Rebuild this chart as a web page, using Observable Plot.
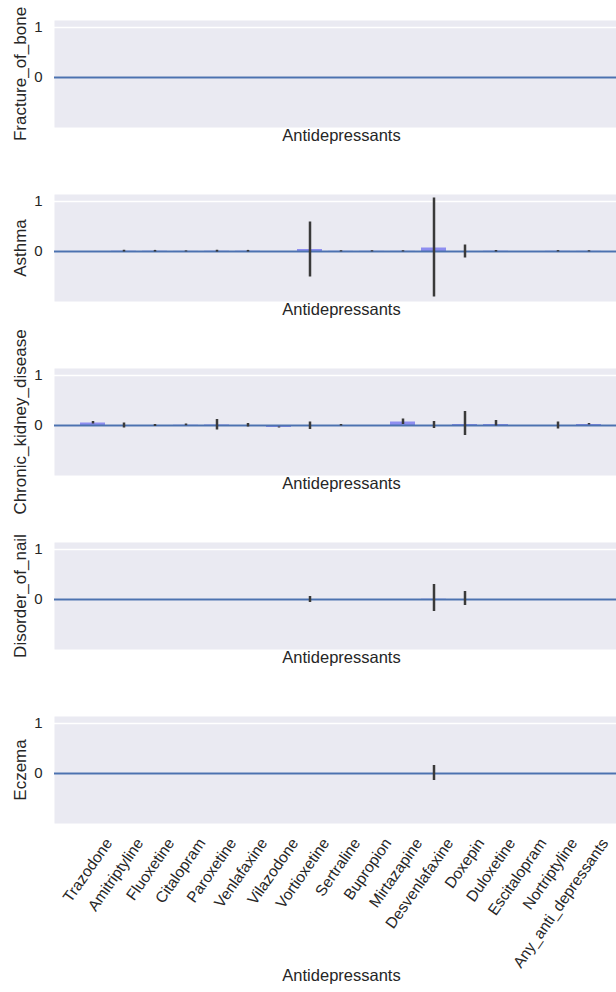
<!DOCTYPE html>
<html><head><meta charset="utf-8">
<script src="https://cdn.jsdelivr.net/npm/d3@7"></script>
<script src="https://cdn.jsdelivr.net/npm/@observablehq/plot@0.6"></script>
<style>
html,body{margin:0;padding:0;background:#fff;overflow:hidden}
#chart{width:616px;overflow:hidden;position:relative}
#chart svg{display:block;overflow:visible}
</style></head><body><div id="chart"></div>
<script>
const drugs = ["Trazodone","Amitriptyline","Fluoxetine","Citalopram","Paroxetine","Venlafaxine","Vilazodone","Vortioxetine","Sertraline","Bupropion","Mirtazapine","Desvenlafaxine","Doxepin","Duloxetine","Escitalopram","Nortriptyline","Any_anti_depressants"];
const xLabel = "Antidepressants";
const yTicks = [0, 1];

const fractureMean = [0,0,0,0,0,0,0,0,0,0,0,0,0,0,0,0,0];
const fractureLo   = [0,0,0,0,0,0,0,0,0,0,0,0,0,0,0,0,0];
const fractureHi   = [0,0,0,0,0,0,0,0,0,0,0,0,0,0,0,0,0];

const asthmaMean = [0, 0.005, 0.005, 0.002, 0.005, 0.005, 0, 0.04, 0.003, 0.003, 0.003, 0.07, 0, 0.005, 0, 0.004, 0.003];
const asthmaLo   = [0, -0.01, -0.01, -0.008, -0.012, -0.01, 0, -0.51, -0.008, -0.008, -0.008, -0.91, -0.13, -0.01, 0, -0.008, -0.008];
const asthmaHi   = [0, 0.025, 0.022, 0.012, 0.025, 0.022, 0, 0.59, 0.015, 0.015, 0.015, 1.07, 0.13, 0.02, 0, 0.018, 0.015];

const kidneyMean = [0.05, 0, 0, 0.005, 0.01, 0, -0.04, 0, 0, 0, 0.07, 0, 0.02, 0.02, 0, 0, 0.02];
const kidneyLo   = [0.03, -0.05, -0.02, -0.005, -0.09, -0.03, -0.05, -0.08, -0.01, 0, 0.02, -0.06, -0.2, -0.01, 0, -0.07, 0.01];
const kidneyHi   = [0.08, 0.05, 0.02, 0.03, 0.12, 0.04, -0.03, 0.07, 0.02, 0, 0.13, 0.08, 0.28, 0.1, 0, 0.07, 0.04];

const nailMean = [0,0,0,0,0,0,0,0,0,0,0,0.005,0,0,0,0,0];
const nailLo   = [0,0,0,0,0,0,0,-0.06,0,0,0,-0.24,-0.12,0,0,0,0];
const nailHi   = [0,0,0,0,0,0,0,0.06,0,0,0,0.3,0.16,0,0,0,0];

const eczemaMean = [0,0,0,0,0,0,0,0,0,0,0,0,0,0,0,0,0];
const eczemaLo   = [0,0,0,0,0,0,0,0,0,0,0,-0.14,0,0,0,0,0];
const eczemaHi   = [0,0,0,0,0,0,0,0,0,0,0,0.16,0,0,0,0,0];

const panels = [
  {name: "Fracture_of_bone", mean: fractureMean, lo: fractureLo, hi: fractureHi},
  {name: "Asthma", mean: asthmaMean, lo: asthmaLo, hi: asthmaHi},
  {name: "Chronic_kidney_disease", mean: kidneyMean, lo: kidneyLo, hi: kidneyHi},
  {name: "Disorder_of_nail", mean: nailMean, lo: nailLo, hi: nailHi},
  {name: "Eczema", mean: eczemaMean, lo: eczemaLo, hi: eczemaHi}
];

const font = "'Liberation Sans', Arial, sans-serif";
const container = document.getElementById("chart");
let lastPlot = null;

panels.forEach((p, k) => {
  const last = k === panels.length - 1;
  const data = drugs.map((d, i) => ({drug: d, mean: p.mean[i], lo: p.lo[i], hi: p.hi[i]}));
  const plot = Plot.plot({
    width: 628,
    height: last ? 296 : 174,
    marginLeft: 54, marginRight: 0, marginTop: 20,
    marginBottom: last ? 169 : 47,
    style: {background: "transparent", overflow: "visible", maxWidth: "none", fontFamily: font, color: "#262626"},
    x: {type: "band", domain: drugs, range: [76.5, 603.5], paddingInner: 0.2, paddingOuter: 0.1, axis: null},
    y: {domain: [-1, 1.14], axis: null},
    marks: [
      Plot.frame({fill: "#eaeaf2"}),
      Plot.gridY(yTicks, {stroke: "#ffffff", strokeOpacity: 1, strokeWidth: 1.3}),
      Plot.barY(data, {x: "drug", y: "mean", fill: "#8e8ef0"}),
      Plot.ruleY([0], {stroke: "#4c72b0", strokeWidth: 2}),
      Plot.ruleX(data, {x: "drug", y1: "lo", y2: "hi", stroke: "#3a3a3a", strokeWidth: 2.5}),
      Plot.axisY(yTicks, {tickSize: 0, tickPadding: 12, fontSize: 15, label: null, tickFormat: d => String(d)}),
      last ? Plot.axisX({tickSize: 0, tickRotate: -55, fontSize: 15.5, label: null, tickPadding: 4}) : null,
      Plot.text([p.name], {frameAnchor: "left", textAnchor: "middle", lineAnchor: "middle", rotate: -90, dx: -34, fontSize: 17}),
      Plot.text([xLabel], {frameAnchor: "bottom", dy: last ? 157 : 13, fontSize: 16.5})
    ]
  });
  container.append(plot);
  if (last) lastPlot = plot;
});

// Align rotated tick labels like the reference: bbox right edge just right of the tick, tops aligned
if (lastPlot) {
  const sx = lastPlot.scale("x");
  const svg = lastPlot;
  const svgRect = svg.getBoundingClientRect();
  const texts = svg.querySelectorAll('g[aria-label="x-axis tick label"] text');
  const frameBottom = 296 - 169;
  texts.forEach((t, i) => {
    const r = t.getBoundingClientRect();
    const right = r.right - svgRect.left;
    const top = r.top - svgRect.top;
    const tx = sx.apply(drugs[i]) + sx.bandwidth / 2 + 23;
    const ty = frameBottom + 12;
    const tr = t.getAttribute("transform") || "";
    t.setAttribute("transform", `translate(${tx - right},${ty - top}) ${tr}`);
  });
}
</script></body></html>
